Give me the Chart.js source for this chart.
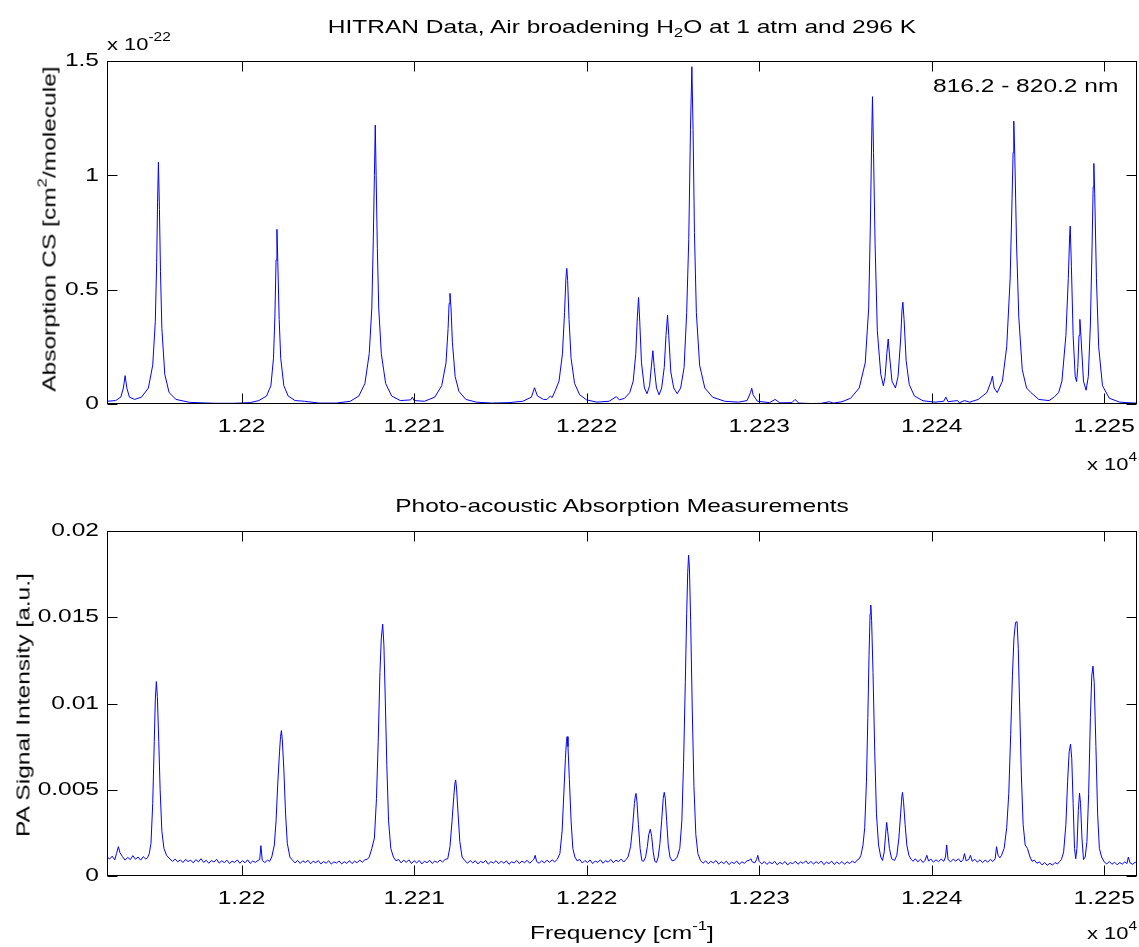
<!DOCTYPE html>
<html>
<head>
<meta charset="utf-8">
<script src="https://cdn.jsdelivr.net/npm/chart.js@4.4.0/dist/chart.umd.min.js"></script>
<style>
  html, body { margin:0; padding:0; background:#fff; }
  #wrap { position:relative; width:1139px; height:947px; overflow:hidden; background:#fff; }
  canvas { position:absolute; left:0; }
  .t { position:absolute; font-family:"Liberation Sans", Arial, sans-serif; font-size:19px; line-height:19px; color:#000; white-space:nowrap; }
  .s { font-size:17px; line-height:17px; }
  .l { transform-origin:0 50%; transform:scaleX(1.29); }
  .c { transform:translateX(-50%) scaleX(1.29); }
  .r { transform:translate(-50%,-50%) rotate(-90deg) scaleX(1.29); }
  .sup { font-size:13px; position:relative; top:-9px; }
  .s .sup { font-size:12px; }
  .sub { font-size:13px; position:relative; top:4px; }
</style>
</head>
<body>
<div id="wrap">
  <canvas id="c1" width="1139" height="470" style="top:0;width:1139px;height:470px"></canvas>
  <canvas id="c2" width="1139" height="477" style="top:470px;width:1139px;height:477px"></canvas>
  <div class="t c" style="left:621.5px;top:17px">HITRAN Data, Air broadening H<span class="sub">2</span>O at 1 atm and 296 K</div>
  <div class="t s l" style="left:107px;top:35.6px">x 10<span class="sup">-22</span></div>
  <div class="t l" style="left:933px;top:76px">816.2 - 820.2 nm</div>
  <div class="t s l" style="left:1087px;top:455.6px">x 10<span class="sup">4</span></div>
  <div class="t c" style="left:622px;top:495.5px">Photo-acoustic Absorption Measurements</div>
  <div class="t c" style="left:622px;top:923px">Frequency [cm<span class="sup">-1</span>]</div>
  <div class="t s l" style="left:1087px;top:924.6px">x 10<span class="sup">4</span></div>
  <div class="t r" style="left:50px;top:228.5px">Absorption CS [cm<span class="sup">2</span>/molecule]</div>
  <div class="t r" style="left:23px;top:705px">PA Signal Intensity [a.u.]</div>
</div>
<script>
// ---------- data ----------
const freqMin = 12192.2;
const freqMax = 12251.9;
const freqTicks = [12200, 12210, 12220, 12230, 12240, 12250];
const freqTickLabels = ['1.22', '1.221', '1.222', '1.223', '1.224', '1.225'];
const csTicks = [0, 0.5, 1, 1.5];
const csTickLabels = ['0', '0.5', '1', '1.5'];
const paTicks = [0, 0.005, 0.01, 0.015, 0.02];
const paTickLabels = ['0', '0.005', '0.01', '0.015', '0.02'];

// HITRAN absorption cross-section, [frequency cm^-1, value x 1e-22]
const hitranSpectrum = [
 [12192.2,0.012],[12192.7,0.015],[12193.0,0.03],[12193.15,0.07],[12193.25,0.124],[12193.35,0.07],[12193.5,0.03],[12193.8,0.02],
 [12194.2,0.03],[12194.6,0.07],[12194.85,0.17],[12195.0,0.36],[12195.08,0.62],[12195.13,0.88],[12195.18,1.057],[12195.24,0.85],
 [12195.3,0.58],[12195.38,0.33],[12195.55,0.13],[12195.8,0.05],[12196.2,0.02],[12197.0,0.007],[12198.5,0.003],[12199.5,0.003],
 [12200.5,0.006],[12201.0,0.015],[12201.45,0.035],[12201.7,0.08],[12201.85,0.2],[12201.93,0.38],[12202.0,0.63],[12202.05,0.764],
 [12202.1,0.62],[12202.18,0.37],[12202.27,0.2],[12202.45,0.08],[12202.7,0.035],[12203.1,0.015],[12203.63,0.012],[12204.5,0.004],
 [12205.5,0.004],[12206.3,0.012],[12206.8,0.035],[12207.15,0.09],[12207.4,0.22],[12207.55,0.42],[12207.63,0.7],[12207.7,1.0],
 [12207.75,1.22],[12207.8,1.0],[12207.87,0.68],[12207.95,0.42],[12208.1,0.22],[12208.35,0.09],[12208.7,0.035],[12209.2,0.015],
 [12209.8,0.018],[12209.9,0.03],[12210.0,0.015],[12210.6,0.012],[12211.2,0.03],[12211.6,0.08],[12211.85,0.18],[12211.97,0.33],
 [12212.03,0.44],[12212.08,0.484],[12212.14,0.42],[12212.22,0.27],[12212.38,0.12],[12212.6,0.055],[12213.0,0.02],[12213.6,0.008],
 [12214.5,0.004],[12215.5,0.006],[12216.3,0.012],[12216.8,0.03],[12216.98,0.071],[12217.15,0.035],[12217.5,0.02],[12217.7,0.02],
 [12217.9,0.035],[12218.0,0.028],[12218.19,0.06],[12218.4,0.1],[12218.6,0.22],[12218.72,0.4],[12218.8,0.55],[12218.85,0.593],
 [12218.9,0.54],[12218.98,0.37],[12219.1,0.2],[12219.3,0.09],[12219.6,0.04],[12220.0,0.018],[12220.6,0.008],[12221.3,0.012],
 [12221.72,0.032],[12221.9,0.018],[12222.2,0.025],[12222.5,0.05],[12222.7,0.1],[12222.85,0.22],[12222.94,0.38],[12223.01,0.466],
 [12223.08,0.36],[12223.18,0.18],[12223.35,0.07],[12223.5,0.045],[12223.65,0.08],[12223.76,0.17],[12223.84,0.233],[12223.92,0.16],
 [12224.05,0.07],[12224.2,0.04],[12224.35,0.07],[12224.5,0.16],[12224.6,0.3],[12224.69,0.389],[12224.76,0.3],[12224.88,0.14],
 [12225.05,0.07],[12225.25,0.045],[12225.45,0.07],[12225.65,0.16],[12225.8,0.4],[12225.92,0.72],[12226.02,1.2],[12226.1,1.475],
 [12226.17,1.2],[12226.25,0.75],[12226.36,0.4],[12226.55,0.17],[12226.85,0.07],[12227.3,0.03],[12228.0,0.012],[12228.8,0.008],
 [12229.3,0.015],[12229.5,0.05],[12229.57,0.069],[12229.65,0.04],[12229.9,0.012],[12230.6,0.006],[12230.93,0.02],[12231.2,0.005],
 [12231.9,0.006],[12232.08,0.02],[12232.3,0.004],[12233.0,0.002],[12233.6,0.003],[12234.07,0.01],[12234.3,0.004],[12234.8,0.01],
 [12235.3,0.025],[12235.8,0.07],[12236.15,0.18],[12236.35,0.42],[12236.45,0.8],[12236.52,1.15],[12236.57,1.344],[12236.63,1.1],
 [12236.72,0.7],[12236.85,0.32],[12237.05,0.13],[12237.2,0.08],[12237.3,0.12],[12237.4,0.22],[12237.48,0.284],[12237.56,0.21],
 [12237.7,0.1],[12237.9,0.07],[12238.05,0.12],[12238.2,0.28],[12238.28,0.41],[12238.33,0.445],[12238.4,0.37],[12238.52,0.19],
 [12238.7,0.085],[12239.0,0.035],[12239.5,0.014],[12240.2,0.008],[12240.7,0.012],[12240.82,0.03],[12240.95,0.01],[12241.5,0.015],
 [12241.6,0.005],[12241.9,0.015],[12242.2,0.008],[12242.7,0.02],[12243.2,0.05],[12243.45,0.1],[12243.52,0.122],[12243.62,0.07],
 [12243.8,0.05],[12244.1,0.1],[12244.35,0.25],[12244.55,0.55],[12244.66,0.9],[12244.72,1.1],[12244.76,1.237],[12244.82,1.08],
 [12244.92,0.7],[12245.05,0.38],[12245.25,0.15],[12245.5,0.07],[12245.75,0.05],[12245.91,0.04],[12246.2,0.02],[12246.8,0.015],
 [12247.1,0.03],[12247.36,0.05],[12247.55,0.1],[12247.78,0.3],[12247.92,0.55],[12248.0,0.74],[12248.03,0.778],[12248.1,0.6],
 [12248.2,0.3],[12248.32,0.12],[12248.4,0.098],[12248.47,0.16],[12248.54,0.3],[12248.59,0.37],[12248.65,0.3],[12248.8,0.1],
 [12248.95,0.06],[12249.08,0.12],[12249.2,0.35],[12249.3,0.7],[12249.36,0.95],[12249.4,1.052],[12249.45,0.92],[12249.55,0.55],
 [12249.68,0.25],[12249.9,0.08],[12250.3,0.025],[12250.9,0.008],[12251.5,0.005],[12251.9,0.004]
];

// Photo-acoustic signal, [frequency cm^-1, intensity a.u.]
const paSpectrum = [
 [12192.2,0.00112],[12192.35,0.00098],[12192.5,0.00115],[12192.65,0.00094],[12192.75,0.0013],[12192.86,0.0017],[12192.95,0.00135],
 [12193.1,0.00112],[12193.25,0.00092],[12193.4,0.00108],[12193.55,0.00095],[12193.7,0.00118],[12193.85,0.00097],[12194.0,0.0011],
 [12194.15,0.00092],[12194.3,0.00112],[12194.45,0.00098],[12194.55,0.00106],
 [12194.65,0.0013],[12194.75,0.0019],[12194.85,0.0042],[12194.94,0.0078],[12195.0,0.0102],[12195.06,0.01127],[12195.12,0.0104],
 [12195.2,0.0078],[12195.28,0.005],[12195.38,0.0026],[12195.5,0.0016],[12195.65,0.0012],[12195.85,0.00098],
 [12196.0,0.00085],[12196.15,0.00098],[12196.3,0.00082],[12196.45,0.00094],[12196.6,0.00078],[12196.75,0.00096],[12196.9,0.00084],
 [12197.05,0.00092],[12197.2,0.00076],[12197.35,0.00095],[12197.5,0.00082],[12197.65,0.001],[12197.8,0.00079],[12197.95,0.00091],
 [12198.1,0.00074],[12198.25,0.0009],[12198.4,0.00081],[12198.55,0.00097],[12198.7,0.00075],[12198.85,0.00088],[12199.0,0.00078],
 [12199.15,0.00092],[12199.3,0.00072],[12199.45,0.00086],[12199.6,0.00079],[12199.75,0.00093],[12199.9,0.00074],[12200.05,0.00089],
 [12200.2,0.00077],[12200.35,0.00094],[12200.5,0.00073],[12200.65,0.00087],[12200.8,0.00079],[12200.95,0.0009],[12201.05,0.00095],
 [12201.12,0.00176],[12201.2,0.0009],[12201.35,0.00078],[12201.5,0.00092],[12201.62,0.00085],[12201.75,0.0011],
 [12201.9,0.0018],[12202.0,0.0032],[12202.1,0.0054],[12202.2,0.0072],[12202.26,0.0081],[12202.31,0.00843],[12202.36,0.0079],
 [12202.45,0.0062],[12202.55,0.0036],[12202.65,0.0019],[12202.8,0.0011],
 [12202.95,0.00092],[12203.1,0.00076],[12203.25,0.0009],[12203.4,0.00073],[12203.55,0.00088],[12203.7,0.00078],[12203.85,0.00091],
 [12204.0,0.00071],[12204.15,0.00086],[12204.3,0.00077],[12204.45,0.00089],[12204.6,0.0007],[12204.75,0.00084],[12204.9,0.00074],
 [12205.05,0.00088],[12205.2,0.00069],[12205.35,0.00082],[12205.5,0.00075],[12205.65,0.00087],[12205.8,0.0007],[12205.95,0.00083],
 [12206.1,0.00073],[12206.25,0.00089],[12206.4,0.00072],[12206.55,0.00086],[12206.7,0.00077],[12206.85,0.00092],[12207.0,0.0008],
 [12207.15,0.00094],[12207.3,0.00098],[12207.4,0.0011],
 [12207.55,0.0016],[12207.7,0.0022],[12207.82,0.0045],[12207.92,0.0078],[12208.02,0.0118],[12208.1,0.0138],[12208.18,0.0146],
 [12208.25,0.0134],[12208.33,0.0102],[12208.42,0.0064],[12208.52,0.0032],[12208.65,0.0016],
 [12208.8,0.0011],[12208.95,0.00088],[12209.1,0.00096],[12209.25,0.00076],[12209.4,0.00092],[12209.55,0.00079],[12209.7,0.00094],
 [12209.85,0.00072],[12210.0,0.00089],[12210.15,0.00076],[12210.3,0.0009],[12210.45,0.0007],[12210.6,0.00086],[12210.75,0.00077],
 [12210.9,0.00091],[12211.05,0.00073],[12211.2,0.00087],[12211.35,0.00078],[12211.5,0.00093],[12211.65,0.00081],[12211.8,0.00096],
 [12211.95,0.001],
 [12212.08,0.0017],[12212.2,0.0032],[12212.3,0.0046],[12212.37,0.0054],[12212.41,0.00557],[12212.46,0.0051],[12212.55,0.0036],
 [12212.65,0.002],[12212.78,0.0011],
 [12212.95,0.00088],[12213.1,0.00074],[12213.25,0.0009],[12213.4,0.00076],[12213.55,0.00088],[12213.7,0.0007],[12213.85,0.00085],
 [12214.0,0.00077],[12214.15,0.0009],[12214.3,0.00069],[12214.45,0.00083],[12214.6,0.00075],[12214.75,0.00089],[12214.9,0.00071],
 [12215.05,0.00086],[12215.2,0.00074],[12215.35,0.00088],[12215.5,0.00068],[12215.65,0.00082],[12215.8,0.00076],[12215.95,0.0009],
 [12216.1,0.00072],[12216.25,0.00087],[12216.4,0.00077],[12216.55,0.00091],[12216.7,0.00074],[12216.85,0.00088],[12216.95,0.00098],
 [12217.02,0.0012],[12217.1,0.00084],[12217.25,0.00074],[12217.4,0.00089],[12217.55,0.00076],[12217.7,0.00092],[12217.85,0.00079],
 [12218.0,0.00094],[12218.15,0.00082],[12218.3,0.00097],
 [12218.45,0.0013],[12218.58,0.0026],[12218.68,0.0048],[12218.77,0.0068],[12218.83,0.0078],[12218.87,0.00808],[12218.92,0.0075],
 [12219.0,0.0056],[12219.1,0.0032],[12219.2,0.0016],
 [12219.32,0.0011],[12219.45,0.00088],[12219.6,0.00096],[12219.75,0.00075],[12219.9,0.0009],[12220.05,0.00078],[12220.2,0.00093],
 [12220.35,0.00072],[12220.5,0.00087],[12220.65,0.00079],[12220.8,0.00094],[12220.95,0.00074],[12221.1,0.00089],[12221.25,0.0008],
 [12221.4,0.00096],[12221.55,0.00077],[12221.7,0.00092],[12221.85,0.00083],[12222.0,0.00098],[12222.15,0.00081],[12222.28,0.00095],
 [12222.4,0.0011],
 [12222.55,0.0017],[12222.67,0.0029],[12222.77,0.0042],[12222.83,0.0047],[12222.86,0.00479],[12222.92,0.0043],[12223.0,0.003],
 [12223.1,0.0016],[12223.2,0.0009],[12223.3,0.00085],[12223.42,0.0011],[12223.52,0.0017],[12223.6,0.0024],[12223.69,0.00271],
 [12223.77,0.0023],[12223.86,0.0014],[12223.95,0.00085],[12224.05,0.00078],[12224.15,0.0011],[12224.25,0.0019],[12224.35,0.0032],
 [12224.44,0.0045],[12224.5,0.00485],[12224.56,0.0045],[12224.64,0.0032],[12224.73,0.0018],[12224.83,0.0011],[12224.95,0.00088],
 [12225.1,0.00092],[12225.25,0.0011],[12225.4,0.0016],[12225.52,0.0032],[12225.62,0.0066],[12225.72,0.0112],[12225.8,0.0152],
 [12225.86,0.0176],[12225.91,0.0186],[12225.96,0.0178],[12226.03,0.0148],[12226.12,0.0098],[12226.22,0.0052],[12226.33,0.0024],
 [12226.45,0.0013],
 [12226.6,0.0009],[12226.75,0.00074],[12226.9,0.00088],[12227.05,0.00071],[12227.2,0.00085],[12227.35,0.00076],[12227.5,0.0009],
 [12227.65,0.00069],[12227.8,0.00083],[12227.95,0.00072],[12228.1,0.00086],[12228.25,0.00066],[12228.4,0.0008],[12228.55,0.00073],
 [12228.7,0.00087],[12228.85,0.00068],[12229.0,0.00082],[12229.15,0.00074],[12229.3,0.00088],[12229.45,0.00092],[12229.52,0.001],
 [12229.6,0.00082],[12229.75,0.00076],[12229.85,0.00095],[12229.92,0.0012],[12230.0,0.00085],[12230.15,0.0007],[12230.3,0.00084],
 [12230.45,0.00067],[12230.6,0.00081],[12230.75,0.00071],[12230.9,0.00085],[12231.05,0.00065],[12231.2,0.00079],[12231.35,0.0007],
 [12231.5,0.00084],[12231.65,0.00064],[12231.8,0.00078],[12231.95,0.00071],[12232.1,0.00086],[12232.25,0.00068],[12232.4,0.00082],
 [12232.55,0.00073],[12232.7,0.00088],[12232.85,0.0007],[12233.0,0.00085],[12233.15,0.00069],[12233.3,0.00083],[12233.45,0.00072],
 [12233.6,0.00087],[12233.75,0.00066],[12233.9,0.0008],[12234.05,0.00072],[12234.2,0.00086],[12234.35,0.00067],[12234.5,0.00081],
 [12234.65,0.0007],[12234.8,0.00084],[12234.95,0.00068],[12235.1,0.00082],[12235.25,0.00072],[12235.4,0.00087],[12235.55,0.00076],
 [12235.68,0.00092],[12235.8,0.001],
 [12235.9,0.0012],[12236.02,0.0018],[12236.12,0.0028],[12236.22,0.0055],[12236.3,0.0092],[12236.37,0.0128],[12236.43,0.0152],
 [12236.47,0.01571],[12236.52,0.0148],[12236.6,0.0118],[12236.7,0.0072],[12236.8,0.0036],[12236.92,0.0018],[12237.05,0.0011],
 [12237.15,0.0009],[12237.25,0.0014],[12237.33,0.0024],[12237.39,0.00311],[12237.45,0.0026],[12237.55,0.0016],[12237.68,0.001],
 [12237.85,0.0009],[12237.98,0.0012],[12238.1,0.0022],[12238.2,0.0036],[12238.27,0.0046],[12238.31,0.00485],[12238.37,0.0043],
 [12238.46,0.003],[12238.56,0.0018],
 [12238.68,0.0012],[12238.8,0.00098],[12238.92,0.00085],[12239.05,0.001],[12239.2,0.00082],[12239.35,0.00097],[12239.5,0.00078],
 [12239.62,0.00092],[12239.72,0.0012],[12239.82,0.00086],[12239.95,0.00099],[12240.1,0.0008],[12240.25,0.00094],[12240.4,0.00083],
 [12240.55,0.00098],[12240.7,0.00085],[12240.8,0.0011],[12240.87,0.0018],[12240.95,0.00095],[12241.1,0.00082],[12241.25,0.00098],
 [12241.4,0.00086],[12241.55,0.001],[12241.7,0.00081],[12241.82,0.00095],[12241.9,0.0013],[12242.0,0.00088],[12242.15,0.00096],
 [12242.25,0.0012],[12242.35,0.00085],[12242.5,0.00097],[12242.65,0.0008],[12242.8,0.00094],[12242.95,0.00078],[12243.1,0.00092],
 [12243.25,0.00081],[12243.4,0.00096],[12243.55,0.00084],[12243.68,0.001],[12243.76,0.0017],[12243.85,0.0012],[12243.95,0.00105],
 [12244.05,0.0012],
 [12244.2,0.0016],[12244.35,0.0028],[12244.47,0.0048],[12244.58,0.0082],[12244.68,0.0116],[12244.77,0.0138],[12244.86,0.0147],
 [12244.95,0.01474],[12245.02,0.0132],[12245.1,0.0098],[12245.2,0.0058],[12245.3,0.003],[12245.42,0.0018],[12245.55,0.0016],
 [12245.7,0.0011],[12245.82,0.00085],[12245.95,0.00092],[12246.1,0.00074],[12246.25,0.00082],[12246.4,0.00064],[12246.55,0.00078],
 [12246.7,0.00062],[12246.85,0.00074],[12247.0,0.00063],[12247.15,0.00078],[12247.3,0.0007],[12247.42,0.00085],[12247.52,0.00095],
 [12247.65,0.0014],[12247.78,0.003],[12247.88,0.0055],[12247.97,0.0072],[12248.05,0.00765],[12248.12,0.0068],[12248.2,0.0042],
 [12248.28,0.0016],[12248.35,0.001],[12248.42,0.0016],[12248.5,0.0038],[12248.57,0.0048],[12248.63,0.0042],[12248.71,0.0022],
 [12248.8,0.00095],[12248.9,0.0011],[12249.0,0.002],[12249.1,0.0048],[12249.2,0.0092],[12249.28,0.0116],[12249.35,0.01217],
 [12249.42,0.0112],[12249.52,0.0075],[12249.62,0.0036],[12249.72,0.0016],
 [12249.85,0.0011],[12250.0,0.00082],[12250.15,0.0007],[12250.3,0.00084],[12250.45,0.00068],[12250.6,0.0008],[12250.75,0.00065],
 [12250.9,0.00078],[12251.05,0.00069],[12251.2,0.00082],[12251.32,0.00072],[12251.4,0.0011],[12251.5,0.00076],[12251.65,0.00068],
 [12251.8,0.0008],[12251.9,0.00072]
];

// ---------- rendering ----------
const FONT = '"Liberation Sans", Arial, sans-serif';
const FONT_SIZE = 19;
const TEXT_WIDEN = 1.29;

// Widen tick-label glyphs about their anchor (reference uses a broad font).
const wideText = {
  id: 'wideText',
  beforeDraw(chart) {
    const ctx = chart.ctx;
    const proto = Object.getPrototypeOf(ctx);
    ctx.rotate = function (a) { proto.rotate.call(this, a); proto.scale.call(this, TEXT_WIDEN, 1); };
  },
  afterDraw(chart) { delete chart.ctx.rotate; }
};

const boxTicks = {
  id: 'boxTicks',
  afterDraw(chart) {
    const {ctx, chartArea: a, scales: {x, y}} = chart;
    const L = Math.round(a.left) + 0.5, R = Math.round(a.right) - 0.5;
    const T = Math.round(a.top) + 0.5, B = Math.round(a.bottom) - 0.5;
    const len = 10;
    ctx.save();
    ctx.strokeStyle = '#000';
    ctx.lineWidth = 1;
    ctx.beginPath();
    x.ticks.forEach(t => {
      const px = Math.round(x.getPixelForValue(t.value)) + 0.5;
      ctx.moveTo(px, B); ctx.lineTo(px, B - len);
      ctx.moveTo(px, T); ctx.lineTo(px, T + len);
    });
    y.ticks.forEach(t => {
      const py = Math.round(y.getPixelForValue(t.value)) + 0.5;
      ctx.moveTo(L, py); ctx.lineTo(L + len, py);
      ctx.moveTo(R, py); ctx.lineTo(R - len, py);
    });
    ctx.stroke();
    ctx.strokeRect(L, T, R - L, B - T);
    ctx.restore();
  }
};

function makeChart(canvasId, points, yMin, yMax, yTicks, yLabels, xAxisHeight) {
  const ctx = document.getElementById(canvasId).getContext('2d');
  return new Chart(ctx, {
    type: 'line',
    data: {
      datasets: [{
        data: points.map(p => ({x: p[0], y: p[1]})),
        borderColor: '#0000ff',
        borderWidth: 1,
        pointRadius: 0,
        tension: 0,
        fill: false
      }]
    },
    options: {
      responsive: false,
      animation: false,
      devicePixelRatio: 1,
      events: [],
      layout: { padding: { left: 0, right: 1, top: 61, bottom: 0 } },
      plugins: { legend: { display: false }, title: { display: false }, tooltip: { enabled: false } },
      scales: {
        x: {
          type: 'linear',
          min: freqMin,
          max: freqMax,
          afterBuildTicks: s => { s.ticks = freqTicks.map(v => ({value: v})); },
          afterFit: s => { s.height = xAxisHeight; },
          grid: { display: false, drawTicks: false },
          border: { display: false },
          ticks: {
            padding: 11,
            maxRotation: 0,
            autoSkip: false,
            color: '#000',
            font: { family: FONT, size: FONT_SIZE },
            callback: v => { const i = freqTicks.indexOf(v); return i >= 0 ? freqTickLabels[i] : ''; }
          }
        },
        y: {
          type: 'linear',
          min: yMin,
          max: yMax,
          afterBuildTicks: s => { s.ticks = yTicks.map(v => ({value: v})); },
          afterFit: s => { s.width = 107; },
          grid: { display: false, drawTicks: false },
          border: { display: false },
          ticks: {
            padding: 8,
            autoSkip: false,
            color: '#000',
            font: { family: FONT, size: FONT_SIZE },
            callback: v => { const i = yTicks.indexOf(v); return i >= 0 ? yLabels[i] : ''; }
          }
        }
      }
    },
    plugins: [wideText, boxTicks]
  });
}

makeChart('c1', hitranSpectrum, 0, 1.5, csTicks, csTickLabels, 66);
makeChart('c2', paSpectrum, 0, 0.02, paTicks, paTickLabels, 71);
</script>
</body>
</html>
